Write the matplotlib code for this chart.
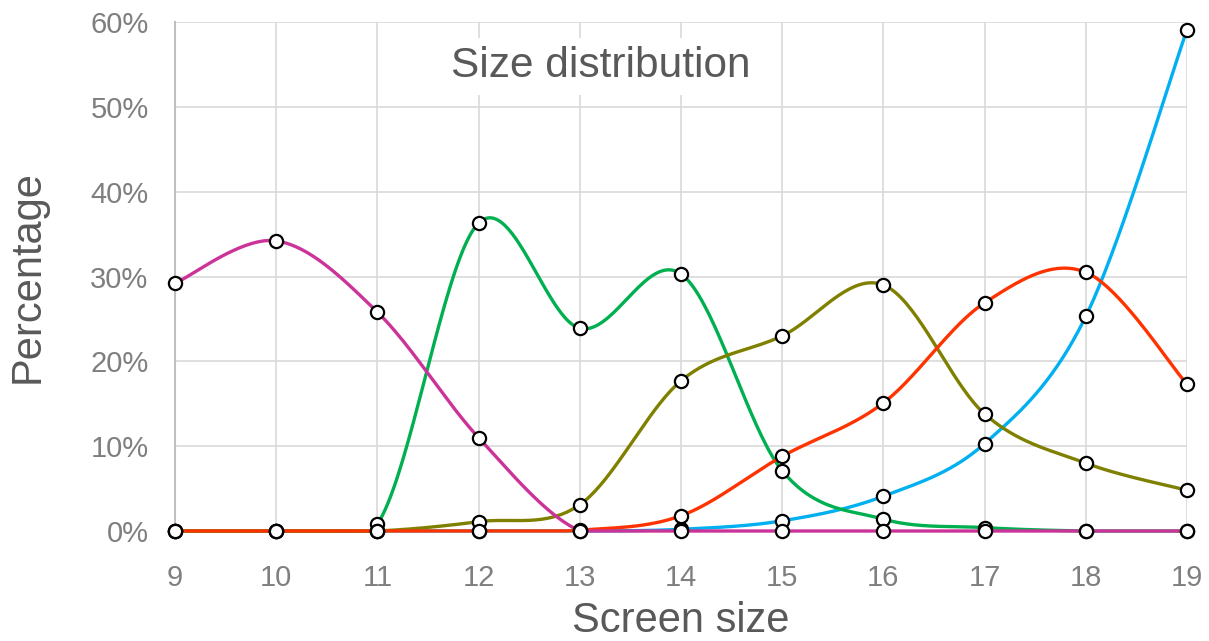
import numpy as np
import matplotlib.pyplot as plt

plt.rcParams['font.family'] = ['Liberation Sans', 'DejaVu Sans']

sizes = [9, 10, 11, 12, 13, 14, 15, 16, 17, 18, 19]
series_a = [29.2, 34.2, 25.8, 11.0, 0, 0, 0, 0, 0, 0, 0]
series_b = [0, 0, 0.8, 36.3, 23.9, 30.3, 7.1, 1.4, 0.4, 0, 0]
series_c = [0, 0, 0, 1.1, 3.1, 17.7, 23.0, 29.0, 13.8, 8.0, 4.8]
series_d = [0, 0, 0, 0, 0.1, 1.8, 8.8, 15.1, 26.9, 30.5, 17.3]
series_e = [0, 0, 0, 0, 0, 0.2, 1.2, 4.1, 10.3, 25.3, 59.1]

colors = {
    'e': '#00B0F0',
    'b': '#00B050',
    'c': '#808000',
    'd': '#FF3300',
    'a': '#CC3399',
}


def smooth(x, y, n=40):
    # cubic bezier through every point, Catmull-Rom tangents
    p = np.column_stack([x, y]).astype(float)
    pts = np.vstack([p[0], p, p[-1]])
    t = np.linspace(0, 1, n)[:, None]
    out = []
    for i in range(1, len(pts) - 2):
        p0, p1 = pts[i], pts[i + 1]
        c1 = p0 + (pts[i + 1] - pts[i - 1]) / 6
        c2 = p1 - (pts[i + 2] - pts[i]) / 6
        seg = ((1 - t) ** 3) * p0 + 3 * ((1 - t) ** 2) * t * c1 \
            + 3 * (1 - t) * t ** 2 * c2 + t ** 3 * p1
        out.append(seg if i == 1 else seg[1:])
    out = np.vstack(out)
    # shares can't go negative
    return out[:, 0], np.clip(out[:, 1], 0, None)


fig = plt.figure(figsize=(12.09, 6.41), dpi=100)
ax = fig.add_axes([175 / 1209, 110 / 641, 1012 / 1209, 509 / 641])

data = [('e', series_e), ('b', series_b), ('c', series_c),
        ('d', series_d), ('a', series_a)]
for key, vals in data:
    sx, sy = smooth(sizes, vals)
    ax.plot(sx, sy, color=colors[key], lw=2.4, solid_capstyle='round',
            clip_on=False, zorder=3)
for key, vals in data:
    ax.plot(sizes, vals, ls='none', marker='o', ms=9.5, mfc='white',
            mec='black', mew=1.6, clip_on=False, zorder=4)

ax.set_xlim(9, 19)
ax.set_ylim(0, 60)
ax.set_xticks(sizes)
ax.set_yticks(range(0, 61, 10))
ax.set_yticklabels([f'{v}%' for v in range(0, 61, 10)])
ax.tick_params(length=0, labelsize=21, colors='#7F7F7F')
ax.tick_params(axis='y', pad=19)
ax.tick_params(axis='x', pad=24)
ax.grid(True, color='#D9D9D9', lw=1.2)
ax.set_axisbelow(True)
for side in ['top', 'right']:
    ax.spines[side].set_visible(False)
ax.spines['left'].set_color('#BFBFBF')
ax.spines['left'].set_linewidth(1.5)
ax.spines['bottom'].set_color('#D9D9D9')

ax.set_xlabel('Screen size', fontsize=30, color='#595959', labelpad=6)
ax.set_ylabel('Percentage', fontsize=30, color='#595959', labelpad=31)

ax.text(13.21, 54.8, 'Size distribution', fontsize=30.5, color='#595959',
        ha='center', va='center', zorder=5,
        bbox=dict(facecolor='white', edgecolor='none', pad=6))

fig.savefig('out.png', dpi=100)
